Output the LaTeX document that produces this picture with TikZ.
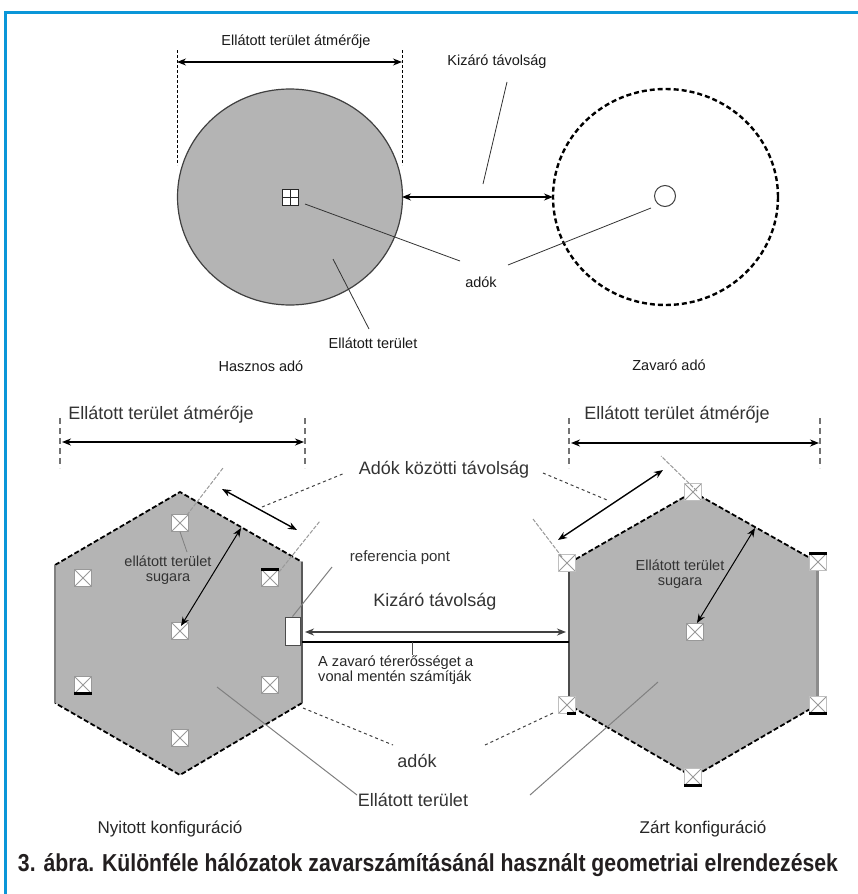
\documentclass[tikz,border=0pt]{standalone}
\usepackage{fontspec}
\setmainfont{Liberation Sans}
\usetikzlibrary{arrows.meta}
\definecolor{frameblue}{HTML}{0A96D8}
\definecolor{areagray}{HTML}{B4B4B4}
\definecolor{captext}{HTML}{231F20}
\tikzset{
  lbl/.style={font=\fontsize{14.5}{16}\selectfont, inner sep=0pt, text=black!90},
  blbl/.style={font=\fontsize{18}{20}\selectfont, inner sep=0pt, text=black!80},
  slbl/.style={font=\fontsize{14.5}{15.5}\selectfont, inner sep=0pt, text=black!80, align=center},
  leader/.style={black!80, line width=0.8pt},
  gleader/.style={black!50, line width=1pt},
  dleader/.style={black!75, line width=1pt, dash pattern=on 3pt off 3pt},
  extline/.style={black!40, line width=1pt, dash pattern=on 4pt off 1.5pt},
  dimarrow/.style={<->, line width=1.4pt},
  dimguide/.style={black!55, line width=1.6pt, dash pattern=on 6pt off 4pt},
  hexedge/.style={black, line width=1.8pt, dash pattern=on 5pt off 2.5pt},
  txbox/.style={draw=black!40, fill=white, minimum size=17pt, inner sep=0pt,
    path picture={\draw[black!40, line width=0.8pt]
      (path picture bounding box.north west) -- (path picture bounding box.south east)
      (path picture bounding box.north east) -- (path picture bounding box.south west);}},
  plusbox/.style={draw=black!85, fill=white, minimum size=16pt, inner sep=0pt, line width=0.9pt,
    path picture={\draw[black!85, line width=0.9pt]
      (path picture bounding box.north) -- (path picture bounding box.south)
      (path picture bounding box.east) -- (path picture bounding box.west);}},
  bar/.style={black, line width=2.6pt}
}
\begin{document}
\begin{tikzpicture}[x=1pt,y=-1pt, >={Stealth[length=9pt,width=7pt]}]
\useasboundingbox (0,0) rectangle (858,894);
\fill[white] (0,0) rectangle (858,894);
% frame
\draw[frameblue, line width=3pt] (5,894) -- (5,12.5) -- (858,12.5);

% ================= TOP PART =================
\coordinate (hcC) at (290,197);
\coordinate (zcC) at (665.5,197);
\fill[areagray] (hcC) ellipse [x radius=112.5pt, y radius=108pt];
\draw[black!75, line width=1.2pt] (hcC) ellipse [x radius=112.5pt, y radius=108pt];
\draw[black, line width=2.4pt, dash pattern=on 5pt off 3pt] (zcC) ellipse [x radius=112.5pt, y radius=108pt];

\node[plusbox] (hq) at (290,197) {};
\node[draw=black!75, fill=white, circle, minimum size=21pt, inner sep=0pt, line width=1pt] (zq) at (665,196) {};

% diameter dimension
\coordinate (dgL1) at (177,50); \coordinate (dgL2) at (177,165);
\coordinate (dgR1) at (402,50); \coordinate (dgR2) at (402,165);
\draw[black, line width=0.8pt, dash pattern=on 3pt off 2pt] (dgL1) -- (dgL2);
\draw[black, line width=0.8pt, dash pattern=on 3pt off 2pt] (dgR1) -- (dgR2);
\coordinate (dL) at (177,62); \coordinate (dR) at (402,62);
\draw[dimarrow, line width=1.2pt] (dL) -- (dR);
\node[lbl] (ldia) at (296,42) {Ellátott terület átmérője};

% exclusion distance
\coordinate (kzL) at (402,197); \coordinate (kzR) at (553,197);
\draw[dimarrow, line width=1.3pt] (kzL) -- (kzR);
\node[lbl] (lkiz) at (497,62) {Kizáró távolság};
\coordinate (kzl1) at (507,82); \coordinate (kzl2) at (483,184);
\draw[leader] (kzl1) -- (kzl2);

% transmitters label
\node[lbl] (lado) at (481,282) {adók};
\coordinate (ad1) at (460,261); \coordinate (ad2) at (508,265);
\coordinate (hqo) at (305,204); \coordinate (zqo) at (651,208);
\draw[leader] (hqo) -- (ad1);
\draw[leader] (ad2) -- (zqo);

% served area label
\node[lbl] (lell) at (373,343) {Ellátott terület};
\coordinate (el1) at (333,259); \coordinate (el2) at (369,329);
\draw[leader] (el1) -- (el2);

\node[lbl] (lhas) at (261,366) {Hasznos adó};
\node[lbl] (lzav) at (669,365) {Zavaró adó};

% ================= BOTTOM PART =================
% left hexagon (open configuration)
\coordinate (LT) at (180,492); \coordinate (LTR) at (302,562); \coordinate (LBR) at (302,703);
\coordinate (LB) at (180,775); \coordinate (LBL) at (55,703); \coordinate (LTL) at (55,565);
\fill[areagray] (LT) -- (LTR) -- (LBR) -- (LB) -- (LBL) -- (LTL) -- cycle;
\draw[hexedge] (LTL) -- (LT) -- (LTR);
\draw[hexedge] (LBR) -- (LB) -- (LBL);
\draw[black!50, line width=2.6pt] (LTL) -- (LBL);
\draw[black!65, line width=1.5pt] (LTR) -- (LBR);

% right hexagon (closed configuration)
\coordinate (RT) at (693,492); \coordinate (RTR) at (817,562); \coordinate (RBR) at (817,705);
\coordinate (RB) at (693,777); \coordinate (RBL) at (569,705); \coordinate (RTL) at (569,563);
\fill[areagray] (RT) -- (RTR) -- (RBR) -- (RB) -- (RBL) -- (RTL) -- cycle;
\draw[hexedge] (RTL) -- (RT) -- (RTR);
\draw[hexedge] (RBR) -- (RB) -- (RBL);
\draw[black!70, line width=1.5pt] (RTL) -- (RBL);
\draw[black!45, line width=3pt] (RTR) -- (RBR);

% transmitters, left hexagon
\node[txbox] (t1) at (180,523) {};
\node[txbox] (t2) at (270,578) {};
\node[txbox] (t3) at (270,685) {};
\node[txbox] (t4) at (180,738) {};
\node[txbox] (t5) at (83,685) {};
\node[txbox] (t6) at (83,578) {};
\node[txbox] (t0) at (180,631) {};
\draw[bar] (t2.north west) -- (t2.north east);
\draw[bar] (t5.south west) -- (t5.south east);

% transmitters, right hexagon
\node[txbox, draw=black!25] (r1) at (693,492) {};
\node[txbox, draw=black!25] (r2) at (818,562) {};
\node[txbox, draw=black!25] (r3) at (818,705) {};
\node[txbox, draw=black!25] (r4) at (693,777) {};
\node[txbox, draw=black!25] (r5) at (567,705) {};
\node[txbox, draw=black!25] (r6) at (567,563) {};
\node[txbox] (r0) at (695,632) {};
\draw[bar] (r2.north west) -- (r2.north east);
\draw[bar] (r3.south west) -- (r3.south east);
\draw[bar] (r4.south west) -- (r4.south east);
\draw[bar] (r5.south) -- (r5.south east);

% bottom diameter dimensions
\coordinate (bgL1) at (60,418); \coordinate (bgL2) at (60,468);
\coordinate (bgL3) at (305,418); \coordinate (bgL4) at (305,468);
\draw[dimguide] (bgL1) -- (bgL2);
\draw[dimguide] (bgL3) -- (bgL4);
\coordinate (bdL1) at (62,442); \coordinate (bdL2) at (304,442);
\draw[dimarrow, line width=1.6pt] (bdL1) -- (bdL2);
\node[blbl] (lbdiaL) at (161,415) {Ellátott terület átmérője};

\coordinate (bgR1) at (569,418); \coordinate (bgR2) at (569,468);
\coordinate (bgR3) at (820,418); \coordinate (bgR4) at (820,468);
\draw[dimguide] (bgR1) -- (bgR2);
\draw[dimguide] (bgR3) -- (bgR4);
\coordinate (bdR1) at (571,443); \coordinate (bdR2) at (819,443);
\draw[dimarrow, line width=1.6pt] (bdR1) -- (bdR2);
\node[blbl] (lbdiaR) at (677,415) {Ellátott terület átmérője};

% distance between transmitters
\node[blbl] (lakt) at (444,470) {Adók közötti távolság};
\coordinate (aL1) at (222,489); \coordinate (aL2) at (297,530);
\coordinate (aR1) at (558,540); \coordinate (aR2) at (663,470);
\draw[dimarrow, line width=1.4pt] (aL1) -- (aL2);
\draw[dimarrow, line width=1.4pt] (aR1) -- (aR2);
\coordinate (eL1a) at (187,515); \coordinate (eL1b) at (223,468);
\coordinate (eL2a) at (279,572); \coordinate (eL2b) at (320,521);
\coordinate (eR1a) at (562,557); \coordinate (eR1b) at (533,519);
\coordinate (eR2a) at (697,491); \coordinate (eR2b) at (661,456);
\draw[extline] (eL1a) -- (eL1b);
\draw[extline] (eL2a) -- (eL2b);
\draw[extline] (eR1a) -- (eR1b);
\draw[extline] (eR2a) -- (eR2b);
\coordinate (akL1) at (262,507); \coordinate (akL2) at (345,473);
\coordinate (akR1) at (543,473); \coordinate (akR2) at (607,500);
\draw[dleader] (akL1) -- (akL2);
\draw[dleader] (akR1) -- (akR2);

% radius arrows and labels
\coordinate (rl1) at (181,626); \coordinate (rl2) at (241,528);
\coordinate (rr1) at (697,623); \coordinate (rr2) at (755,528);
\draw[dimarrow, line width=1pt] (rl1) -- (rl2);
\draw[dimarrow, line width=1pt] (rr1) -- (rr2);
\node[slbl] (lsugL) at (168,570) {ellátott terület\\sugara};
\node[slbl] (lsugR) at (680,574) {Ellátott terület\\sugara};
\coordinate (sgl) at (187,552);
\draw[gleader, line width=0.8pt] (t1.south) -- (sgl);

% reference point
\node[draw=black!70, fill=white, minimum width=15pt, minimum height=28pt, inner sep=0pt, line width=1pt] (refp) at (292.5,631) {};
\node[font=\fontsize{15}{16}\selectfont, inner sep=0pt, text=black!80] (lref) at (400,558) {referencia pont};
\coordinate (rf1) at (332,567);
\draw[gleader] (rf1) -- (refp.north);

% exclusion distance bottom
\node[blbl] (lkiz2) at (435,602) {Kizáró távolság};
\coordinate (bk1) at (305,632); \coordinate (bk2) at (566,632);
\draw[dimarrow, line width=1.6pt, black!75] (bk1) -- (bk2);
\coordinate (bl1) at (302,642); \coordinate (bl2) at (569,642);
\draw[black, line width=2.6pt] (bl1) -- (bl2);
\coordinate (tk1) at (412,642); \coordinate (tk2) at (412,655);
\draw[black!70, line width=1pt] (tk1) -- (tk2);
\node[font=\fontsize{14.6}{15.5}\selectfont, inner sep=0pt, text=black!85, align=left, anchor=west] (lzavt) at (318,670) {A zavaró térerősséget a\\vonal mentén számítják};

% transmitters label bottom
\node[blbl] (lado2) at (417,761) {adók};
\coordinate (adb1) at (303,708); \coordinate (adb2) at (393,745);
\coordinate (adb3) at (485,745); \coordinate (adb4) at (553,713);
\draw[dleader] (adb1) -- (adb2);
\draw[dleader] (adb3) -- (adb4);

% served area label bottom
\node[blbl] (lell2) at (413,800) {Ellátott terület};
\coordinate (ebl1) at (217,687); \coordinate (ebl2) at (357,795);
\coordinate (ebr1) at (530,795); \coordinate (ebr2) at (658,682);
\draw[gleader] (ebl1) -- (ebl2);
\draw[gleader] (ebr1) -- (ebr2);

% configuration names
\node[font=\fontsize{17}{18}\selectfont, inner sep=0pt, text=black!85] (lnyit) at (170,829) {Nyitott konfiguráció};
\node[font=\fontsize{17}{18}\selectfont, inner sep=0pt, text=black!85] (lzart) at (703,829) {Zárt konfiguráció};

% caption
\node[inner sep=0pt, text=captext] (cap) at (428,865)
  {\resizebox{820pt}{\height}{\fontsize{24.5}{26}\selectfont\bfseries 3. ábra. Különféle hálózatok zavarszámításánál használt geometriai elrendezések}};
\end{tikzpicture}
\end{document}
